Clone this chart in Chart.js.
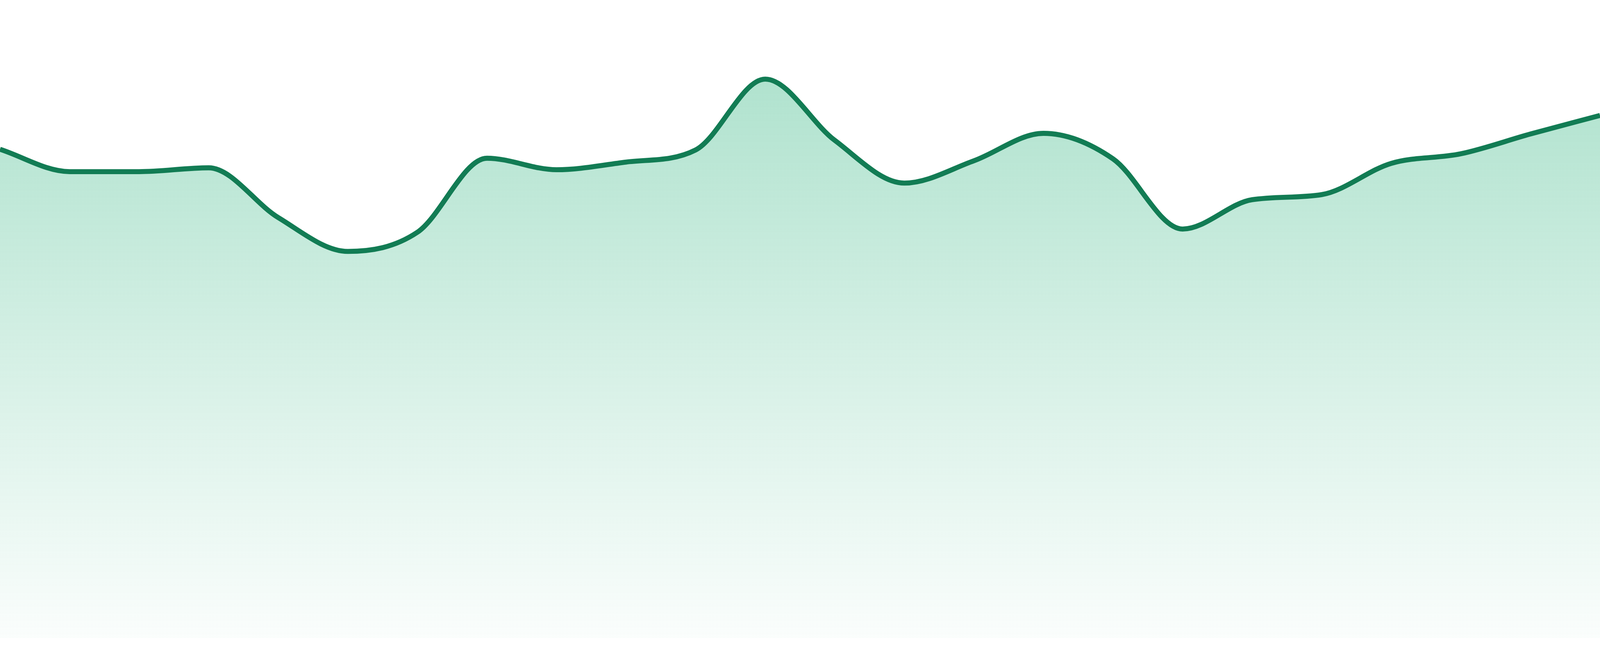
<!DOCTYPE html>
<html>
<head>
<meta charset="utf-8">
<script src="https://cdn.jsdelivr.net/npm/chart.js@4/dist/chart.umd.min.js"></script>
<style>
	html, body { margin: 0; padding: 0; background: #ffffff; overflow: hidden; }
	#wrap { width: 100vw; height: 100vh; position: relative; }
	#wrap canvas { display: block; }
</style>
</head>
<body>
<div id="wrap"><canvas id="areaChart"></canvas></div>
<script>
// categories (no axis is shown in the picture)
var labels = ['1','2','3','4','5','6','7','8','9','10','11','12','13','14','15','16','17','18','19','20','21','22','23','24'];
// series values
var values = [76.6, 73.1, 73.1, 73.7, 65.9, 60.6, 63.6, 75.2, 73.4, 74.6, 76.5, 87.6,
	78.0, 71.3, 74.8, 79.1, 75.1, 64.1, 68.7, 69.5, 74.4, 75.9, 79.0, 81.9];
var yMin = 0;
var yMax = 100;

var lineColor = '#127c54';

// sizes were measured on the 4800 x 1680 picture, scale them to the viewport
var k = window.innerWidth / 4800;
var kh = window.innerHeight / 1680;

var areaGradient = function(context) {
	var chart = context.chart;
	var area = chart.chartArea;
	if (!area) return 'rgba(20,170,110,0.3)';
	var g = chart.ctx.createLinearGradient(0, area.top, 0, area.bottom);
	g.addColorStop(0, 'rgba(20,170,110,0.38)');
	g.addColorStop(1, 'rgba(20,170,110,0.02)');
	return g;
};

var areaChart = new Chart(document.getElementById('areaChart'), {
	type: 'line',
	data: {
		labels: labels,
		datasets: [{
			data: values,
			borderColor: lineColor,
			borderWidth: 15 * k,
			backgroundColor: areaGradient,
			fill: 'origin',
			cubicInterpolationMode: 'monotone',
			pointRadius: 0,
			pointHoverRadius: 0
		}]
	},
	options: {
		responsive: true,
		maintainAspectRatio: false,
		animation: false,
		layout: { padding: { top: 0, right: 0, bottom: 46 * kh, left: 0 } },
		plugins: {
			legend: { display: false },
			tooltip: { enabled: false }
		},
		scales: {
			x: { display: false, offset: false },
			y: { display: false, min: yMin, max: yMax }
		}
	}
});
</script>
</body>
</html>
